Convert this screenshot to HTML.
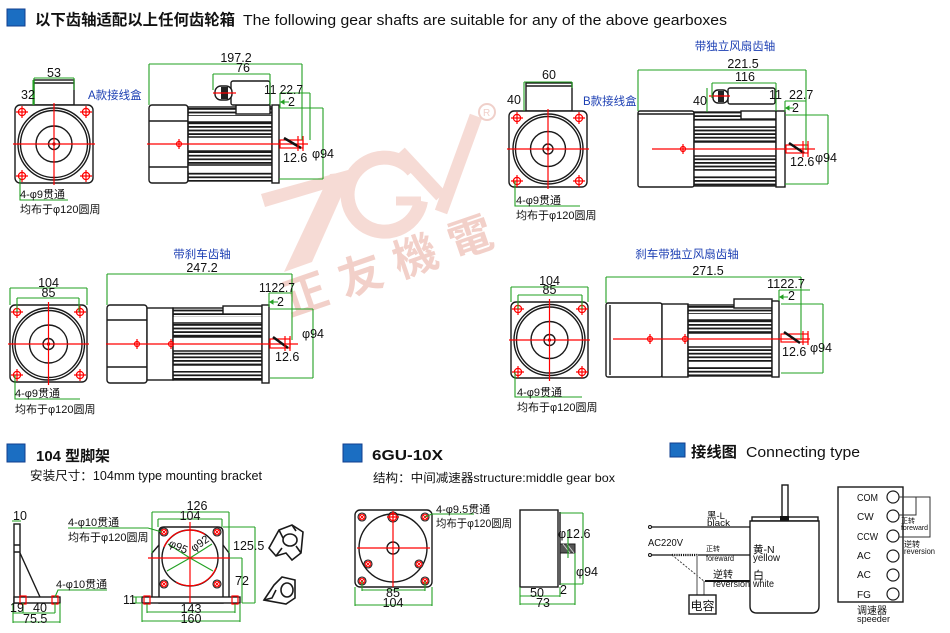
<!DOCTYPE html>
<html><head><meta charset="utf-8">
<style>
html,body{margin:0;padding:0;background:#fff;}
svg{display:block;}
text{font-family:"Liberation Sans","Noto Sans CJK SC",sans-serif;fill:#111;}
.k{stroke:#1a1a1a;fill:none;stroke-width:1.4}
.kw{stroke:#1a1a1a;fill:#fff;stroke-width:1.4}
.g{stroke:#22a022;fill:none;stroke-width:1.1}
.r{stroke:#f00;fill:none;stroke-width:1.2}
.d{font-size:12.5px}
.c{font-size:11px}
.b{font-size:11.5px;fill:#1c3fb3 !important}
.wm{fill:#f6dbd5}
</style></head>
<body>
<svg width="950" height="633" viewBox="0 0 950 633" xmlns="http://www.w3.org/2000/svg">
<defs>
<pattern id="fin" x="0" y="0" width="6" height="3.6" patternUnits="userSpaceOnUse"><rect width="6" height="1.8" fill="#1a1a1a"/></pattern>
<g id="h"><circle r="3.6" fill="none" stroke="#f00" stroke-width="1.2"/><path d="M-6 0H6M0 -6V6" stroke="#f00" stroke-width="1.2"/></g>
<g id="hx"><circle r="4" fill="#fff" stroke="#1a1a1a" stroke-width="1.1"/><circle r="2.8" fill="none" stroke="#f00" stroke-width="1"/><path d="M-2 -2L2 2M2 -2L-2 2" stroke="#f00" stroke-width="1"/></g>
</defs>

<!-- watermark -->
<g>
<polygon class="wm" points="261,194 348,170 352,181 265,207"/>
<polygon class="wm" points="330,174 352,172 312,262 284,272"/>
<path d="M413 171 A37 37 0 1 0 421 201" fill="none" stroke="#f6dbd5" stroke-width="14"/>
<path d="M421 201H396" stroke="#f6dbd5" stroke-width="9"/>
<path d="M400 152L441 196" stroke="#f6dbd5" stroke-width="13"/>
<path d="M476 116L441 212" stroke="#f6dbd5" stroke-width="13"/>
<circle cx="487" cy="112" r="8" fill="none" stroke="#f0d0ca" stroke-width="2"/>
<text x="483" y="116" font-size="10" style="fill:#f0d0ca">R</text>
<text transform="translate(290,316) rotate(-19)" font-size="44" font-weight="bold" letter-spacing="14" style="fill:#f2d0c9;font-family:'Noto Sans CJK TC','Noto Sans CJK SC',sans-serif">正友機電</text>
</g>

<!-- header -->
<rect x="7" y="9" width="18" height="17" fill="#1b6ec2" stroke="#123f8f"/>
<text x="35" y="25" font-size="15.5" font-weight="bold" textLength="200" lengthAdjust="spacingAndGlyphs">以下齿轴适配以上任何齿轮箱</text>
<text x="243" y="25" font-size="15" textLength="484" lengthAdjust="spacingAndGlyphs">The following gear shafts are suitable for any of the above gearboxes</text>

<!-- ===== Top-left front A ===== -->
<rect class="kw" x="34" y="80" width="40" height="25"/>
<path class="k" d="M34 83H74" stroke-width="0.8"/>
<rect class="kw" x="15" y="105" width="78" height="78" rx="5"/>
<circle class="k" cx="54" cy="144" r="36"/>
<circle class="k" cx="54" cy="144" r="33.5"/>
<circle class="k" cx="54" cy="144" r="18"/>
<circle class="k" cx="54" cy="144" r="5.5"/>
<circle cx="54" cy="144" r="1.6" fill="#111"/>
<path class="r" d="M13 144H95M54 103V185"/>
<use href="#h" x="22" y="112"/><use href="#h" x="86" y="112"/><use href="#h" x="22" y="176"/><use href="#h" x="86" y="176"/>
<path class="g" d="M34 78H74M34 78V105M74 78V90M33 80V105"/>
<text class="d" x="47" y="77">53</text>
<text class="d" x="21" y="99">32</text>
<text class="b" x="88" y="99">A款接线盒</text>
<path class="g" d="M20 178V200H68"/>
<text class="c" x="20" y="198">4-φ9贯通</text>
<text class="c" x="20" y="213">均布于φ120圆周</text>

<!-- ===== Top side A ===== -->
<rect class="kw" x="149" y="105" width="39" height="78" rx="3"/>
<path class="k" d="M149 121H188M149 167H188"/>
<rect x="188" y="107" width="84" height="74" fill="url(#fin)"/>
<path fill="#fff" d="M188 116h84v6h-84zM188 137h84v14h-84zM188 165h84v6h-84z"/>
<path class="k" d="M188 122H272M188 137H272M188 151H272M188 165H272"/>
<rect class="k" x="188" y="107" width="84" height="74"/>
<rect class="kw" x="236" y="105" width="34" height="9"/>
<rect class="kw" x="272" y="105" width="7" height="78"/>
<rect class="kw" x="231" y="81" width="39" height="24" rx="2"/>
<rect class="kw" x="215" y="86" width="17" height="14" rx="6"/>
<rect x="221" y="87" width="7" height="12" fill="#222"/>
<path class="r" d="M213 93H236"/>
<path class="r" d="M147 144H308M179 139V149"/>
<circle class="r" cx="179" cy="144" r="2.5"/>
<rect class="r" x="280" y="140" width="23" height="8"/>
<path d="M284 138L301 148" stroke="#111" stroke-width="2.5"/>
<path class="r" d="M298 136V151M303 136V151"/>
<path class="g" d="M149 64H302M149 64V105M302 64V140M213 74H270M213 74V90M270 74V105M280 93H310M310 93V140M280 93V108M279 108H323M279 179H323M323 108V179M282 102H289"/>
<path d="M280 102l4.5-2.8v5.6z" fill="#22a022"/>
<text class="d" x="236" y="62" text-anchor="middle">197.2</text>
<text class="d" x="243" y="72" text-anchor="middle">76</text>
<text class="d" x="264" y="94" textLength="39" lengthAdjust="spacingAndGlyphs">11 22.7</text>
<text class="d" x="288" y="106">2</text>
<text class="d" x="283" y="162">12.6</text>
<text class="d" x="312" y="158">φ94</text>

<!-- ===== Top-right front B ===== -->
<rect class="kw" x="526" y="83" width="46" height="28"/>
<path class="k" d="M526 86H572" stroke-width="0.8"/>
<rect class="kw" x="509" y="111" width="78" height="76" rx="5"/>
<circle class="k" cx="548" cy="149" r="35"/>
<circle class="k" cx="548" cy="149" r="32.5"/>
<circle class="k" cx="548" cy="149" r="17.5"/>
<circle class="k" cx="548" cy="149" r="5"/>
<circle cx="548" cy="149" r="1.6" fill="#111"/>
<path class="r" d="M507 149H589M548 109V189"/>
<use href="#h" x="517" y="118"/><use href="#h" x="579" y="118"/><use href="#h" x="517" y="181"/><use href="#h" x="579" y="181"/>
<path class="g" d="M524 82H572M524 82V111M572 82V88"/>
<text class="d" x="549" y="79" text-anchor="middle">60</text>
<text class="d" x="507" y="104">40</text>
<text class="b" x="583" y="105">B款接线盒</text>
<path class="g" d="M515 181V206H580"/>
<text class="c" x="516" y="204">4-φ9贯通</text>
<text class="c" x="516" y="219">均布于φ120圆周</text>

<!-- ===== Top side B ===== -->
<text class="b" x="735" y="50" text-anchor="middle">带独立风扇齿轴</text>
<rect class="kw" x="638" y="111" width="56" height="76" rx="2"/>
<path class="k" d="M638 114H694" stroke-width="0.8"/>
<rect x="694" y="112" width="82" height="74" fill="url(#fin)"/>
<path fill="#fff" d="M694 121h82v6h-82zM694 142h82v14h-82zM694 170h82v6h-82z"/>
<path class="k" d="M694 127H776M694 142H776M694 156H776M694 170H776"/>
<rect class="k" x="694" y="112" width="82" height="74"/>
<rect class="kw" x="741" y="111" width="35" height="8"/>
<rect class="kw" x="776" y="111" width="9" height="76"/>
<rect class="kw" x="728" y="88" width="47" height="16" rx="2"/>
<rect class="kw" x="713" y="90" width="15" height="13" rx="5"/>
<rect x="718" y="91" width="6" height="11" fill="#222"/>
<path class="r" d="M709 96H730"/>
<path class="r" d="M652 149H815M683 144V154"/>
<circle class="r" cx="683" cy="149" r="2.5"/>
<rect class="r" x="786" y="145" width="22" height="8"/>
<path d="M789 143L804 153" stroke="#111" stroke-width="2.5"/>
<path class="r" d="M803 141V157M808 141V157"/>
<path class="g" d="M638 70H806M638 70V111M806 70V150M712 83H776M712 83V98M776 83V111M707 88V112M785 101H806M785 101V112M785 115H828M785 184H828M828 115V184M787 108H794"/>
<path d="M785 108l4.5-2.8v5.6z" fill="#22a022"/>
<text class="d" x="743" y="68" text-anchor="middle">221.5</text>
<text class="d" x="745" y="81" text-anchor="middle">116</text>
<text class="d" x="693" y="105">40</text>
<text class="d" x="769" y="99">11</text>
<text class="d" x="789" y="99">22.7</text>
<text class="d" x="792" y="112">2</text>
<text class="d" x="790" y="166">12.6</text>
<text class="d" x="815" y="162">φ94</text>

<!-- ===== Middle-left brake ===== -->
<rect class="kw" x="10" y="305" width="77" height="77" rx="5"/>
<circle class="k" cx="48.5" cy="344" r="36"/>
<circle class="k" cx="48.5" cy="344" r="33.5"/>
<circle class="k" cx="48.5" cy="344" r="19"/>
<circle class="k" cx="48.5" cy="344" r="5.5"/>
<circle cx="48.5" cy="344" r="1.6" fill="#111"/>
<path class="r" d="M8 344H89M48.5 302V385"/>
<use href="#h" x="17" y="312"/><use href="#h" x="80" y="312"/><use href="#h" x="17" y="375"/><use href="#h" x="80" y="375"/>
<path class="g" d="M10 288H87M10 288V305M87 288V305M17 298H79M17 298V312M79 298V312"/>
<text class="d" x="48.5" y="287" text-anchor="middle">104</text>
<text class="d" x="48.5" y="297" text-anchor="middle">85</text>
<path class="g" d="M15 375V399H80"/>
<text class="c" x="15" y="397">4-φ9贯通</text>
<text class="c" x="15" y="413">均布于φ120圆周</text>

<text class="b" x="202" y="258" text-anchor="middle">带刹车齿轴</text>
<rect class="kw" x="107" y="305" width="40" height="78" rx="3"/>
<path class="k" d="M107 320H147M107 367H147"/>
<rect class="kw" x="147" y="308" width="26" height="72"/>
<rect x="173" y="308" width="89" height="72" fill="url(#fin)"/>
<path fill="#fff" d="M173 317h89v6h-89zM173 337h89v14h-89zM173 365h89v6h-89z"/>
<path class="k" d="M173 323H262M173 337H262M173 351H262M173 365H262"/>
<rect class="k" x="173" y="308" width="89" height="72"/>
<rect class="kw" x="223" y="306" width="39" height="8"/>
<rect class="kw" x="262" y="305" width="7" height="78"/>
<path class="r" d="M106 344H298M137 339V349M171 339V349"/>
<circle class="r" cx="137" cy="344" r="2.5"/>
<circle class="r" cx="171" cy="344" r="2.5"/>
<rect class="r" x="270" y="339" width="20" height="9"/>
<path d="M273 337L288 348" stroke="#111" stroke-width="2.5"/>
<path class="r" d="M285 336V351M290 336V351"/>
<path class="g" d="M107 274H292M107 274V305M292 274V340M269 293H292M269 293V307M270 309H313M270 378H313M313 309V378M271 302H278"/>
<path d="M269 302l4.5-2.8v5.6z" fill="#22a022"/>
<text class="d" x="202" y="272" text-anchor="middle">247.2</text>
<text class="d" x="259" y="292" textLength="36" lengthAdjust="spacingAndGlyphs">1122.7</text>
<text class="d" x="277" y="306">2</text>
<text class="d" x="302" y="338">φ94</text>
<text class="d" x="275" y="361">12.6</text>

<!-- ===== Middle-right ===== -->
<rect class="kw" x="511" y="302" width="77" height="76" rx="5"/>
<circle class="k" cx="549.5" cy="340" r="35.5"/>
<circle class="k" cx="549.5" cy="340" r="33"/>
<circle class="k" cx="549.5" cy="340" r="18.5"/>
<circle class="k" cx="549.5" cy="340" r="5.5"/>
<circle cx="549.5" cy="340" r="1.6" fill="#111"/>
<path class="r" d="M509 340H590M549.5 299V381"/>
<use href="#h" x="518" y="309"/><use href="#h" x="582" y="309"/><use href="#h" x="518" y="372"/><use href="#h" x="582" y="372"/>
<path class="g" d="M511 287H588M511 287V302M588 287V302M518 295H582M518 295V309M582 295V309"/>
<text class="d" x="549.5" y="285" text-anchor="middle">104</text>
<text class="d" x="549.5" y="294" text-anchor="middle">85</text>
<path class="g" d="M515 372V397H582"/>
<text class="c" x="517" y="396">4-φ9贯通</text>
<text class="c" x="517" y="411">均布于φ120圆周</text>

<text class="b" x="687" y="258" text-anchor="middle">刹车带独立风扇齿轴</text>
<rect class="kw" x="606" y="303" width="56" height="74" rx="2"/>
<path class="k" d="M610 305V375" stroke-width="0.8"/>
<rect class="kw" x="662" y="304" width="26" height="73"/>
<rect x="688" y="305" width="84" height="71" fill="url(#fin)"/>
<path fill="#fff" d="M688 314h84v6h-84zM688 333h84v14h-84zM688 361h84v6h-84z"/>
<path class="k" d="M688 320H772M688 333H772M688 347H772M688 361H772"/>
<rect class="k" x="688" y="305" width="84" height="71"/>
<rect class="kw" x="734" y="299" width="38" height="9"/>
<rect class="kw" x="772" y="301" width="7" height="76"/>
<path class="r" d="M613 339H810M650 334V344M685 334V344"/>
<circle class="r" cx="650" cy="339" r="2.5"/>
<circle class="r" cx="685" cy="339" r="2.5"/>
<rect class="r" x="781" y="334" width="27" height="8"/>
<path d="M784 332L800 343" stroke="#111" stroke-width="2.5"/>
<path class="r" d="M803 331V345M808 331V345"/>
<path class="g" d="M606 277H801M606 277V303M801 277V340M779 290H810M779 290V301M781 304H823M781 373H823M823 304V373M781 297H788"/>
<path d="M779 297l4.5-2.8v5.6z" fill="#22a022"/>
<text class="d" x="708" y="275" text-anchor="middle">271.5</text>
<text class="d" x="767" y="288" textLength="38" lengthAdjust="spacingAndGlyphs">1122.7</text>
<text class="d" x="788" y="300">2</text>
<text class="d" x="810" y="352">φ94</text>
<text class="d" x="782" y="356">12.6</text>

<!-- ===== Bottom-left: 104 bracket ===== -->
<rect x="7" y="444" width="18" height="18" fill="#1b6ec2" stroke="#123f8f"/>
<text x="36" y="461" font-size="15" font-weight="bold" textLength="74" lengthAdjust="spacingAndGlyphs">104 型脚架</text>
<text x="30" y="480" font-size="12.5" textLength="232" lengthAdjust="spacingAndGlyphs">安装尺寸：104mm type mounting bracket</text>

<rect class="kw" x="14" y="524" width="6" height="79"/>
<path class="k" d="M14 545H20M14 552H20" stroke-width="1"/>
<path class="k" d="M20 553L40 597"/>
<rect class="kw" x="14" y="597" width="46" height="6"/>
<rect class="r" x="20" y="596" width="6" height="8"/>
<rect class="r" x="52" y="596" width="6" height="8"/>
<path class="g" d="M12 521H21M55 597L58 590H107M13 603V623M23 603V613M55 603V613M60 603V623M13 613H55M13 622H60"/>
<text class="d" x="13" y="520">10</text>
<text class="c" x="56" y="588">4-φ10贯通</text>
<text class="d" x="10" y="612">19</text>
<text class="d" x="33" y="612">40</text>
<text class="d" x="23" y="623">75.5</text>

<path class="kw" d="M159 603V532Q159 527 164 527H218Q223 527 223 532V603Z"/>
<path class="k" d="M159 545L152 553V597M223 545L229 553V597"/>
<rect class="kw" x="142" y="597" width="98" height="6"/>
<circle class="k" cx="190" cy="558" r="28"/>
<path class="r" d="M164 547A28 28 0 0 1 205 534.5M216 568A28 28 0 0 1 176 582" stroke-width="1.6"/>
<path class="g" d="M190 558L168 544M190 558L212 544M190 558L167 571M190 558L213 571"/>
<path class="r" d="M148 558H230M190 522V603"/>
<use href="#hx" x="164" y="532"/><use href="#hx" x="217" y="532"/><use href="#hx" x="164" y="584"/><use href="#hx" x="217" y="584"/>
<rect class="r" x="144" y="596" width="6" height="8"/>
<rect class="r" x="232" y="596" width="6" height="8"/>
<text class="c" transform="translate(168,546) rotate(24)">φ95</text>
<text class="c" transform="translate(194,552) rotate(-35)">φ92</text>
<path class="g" d="M68 528H148L162 532M152 512H229M152 512V553M229 512V553M158 519H222M158 519V527M222 519V527M223 527H255M255 527V603M242 603H255M230 558H242M242 558V603M133 597H142M133 603H142M136 597V603M147 604V613M235 604V613M147 612H235M142 604V622M240 604V622M142 621H240"/>
<text class="c" x="68" y="526">4-φ10贯通</text>
<text class="c" x="68" y="541">均布于φ120圆周</text>
<text class="d" x="197" y="510" text-anchor="middle">126</text>
<text class="d" x="190" y="520" text-anchor="middle">104</text>
<text class="d" x="233" y="550">125.5</text>
<text class="d" x="235" y="585">72</text>
<text class="d" x="123" y="604">11</text>
<text class="d" x="191" y="613" text-anchor="middle">143</text>
<text class="d" x="191" y="623" text-anchor="middle">160</text>

<!-- iso brackets -->
<g stroke="#1a1a1a" stroke-width="1.6" fill="#fff">
<polygon points="269,548 279,530 292,525 303,532 301,553 292,560 286,553 276,556"/>
<ellipse cx="290" cy="540" rx="7" ry="6" fill="#fff"/>
<path d="M279 530L283 538M292 525L296 531M301 553L296 546M276 556L282 548" fill="none"/>
<polygon points="264,600 274,585 282,577 295,580 295,598 286,604"/>
<ellipse cx="287" cy="590" rx="6" ry="7" fill="#fff"/>
<path d="M264 600L272 598L276 590" fill="none"/>
</g>

<!-- ===== 6GU-10X ===== -->
<rect x="343" y="444" width="19" height="18" fill="#1b6ec2" stroke="#123f8f"/>
<text x="372" y="460" font-size="15" font-weight="bold" textLength="71" lengthAdjust="spacingAndGlyphs">6GU-10X</text>
<text x="373" y="482" font-size="12" textLength="242" lengthAdjust="spacingAndGlyphs">结构：中间减速器structure:middle gear box</text>

<rect class="kw" x="355" y="510" width="77" height="77" rx="5"/>
<circle class="k" cx="393" cy="548" r="34"/>
<circle class="k" cx="393" cy="548" r="6"/>
<path class="r" d="M357 548H430M393 512V587"/>
<use href="#hx" x="362" y="517"/><use href="#hx" x="425" y="517"/><use href="#hx" x="362" y="581"/><use href="#hx" x="425" y="581"/>
<use href="#hx" x="368" y="564"/><use href="#hx" x="419" y="564"/>
<circle cx="393" cy="517" r="5" fill="none" stroke="#1a1a1a" stroke-width="1"/>
<use href="#h" x="393" y="517"/>
<path class="g" d="M425 517L432 514H474M355 587V606M432 587V606M362 581V591M425 581V591M362 590H425M355 605H432"/>
<text class="c" x="436" y="513">4-φ9.5贯通</text>
<text class="c" x="436" y="527" textLength="76" lengthAdjust="spacingAndGlyphs">均布于φ120圆周</text>
<text class="d" x="393" y="597" text-anchor="middle">85</text>
<text class="d" x="393" y="607" text-anchor="middle">104</text>

<rect class="kw" x="520" y="510" width="38" height="77"/>
<path class="k" d="M560 512V585"/>
<rect x="560" y="544" width="15" height="9" fill="#555" stroke="#1a1a1a"/>
<path d="M563 544L570 553M567 544L574 553" stroke="#ccc" stroke-width="1"/>
<path class="g" d="M560 513H583M583 513V584M560 584H583M568 530V558M520 587V605M560 587V597M575 553V605M520 596H560M520 604H575"/>
<text class="d" x="558" y="538">φ12.6</text>
<text class="d" x="576" y="576">φ94</text>
<text class="d" x="537" y="597" text-anchor="middle">50</text>
<text class="d" x="560" y="594">2</text>
<text class="d" x="543" y="607" text-anchor="middle">73</text>

<!-- ===== Connecting type ===== -->
<rect x="670" y="443" width="15" height="14" fill="#1b6ec2" stroke="#123f8f"/>
<text x="691" y="457" font-size="15" font-weight="bold" textLength="46" lengthAdjust="spacingAndGlyphs">接线图</text>
<text x="746" y="457" font-size="15" textLength="114" lengthAdjust="spacingAndGlyphs">Connecting type</text>

<rect class="kw" x="782" y="485" width="6" height="34"/>
<rect class="kw" x="752" y="517" width="66" height="4"/>
<rect x="780" y="516" width="9" height="5" fill="#111"/>
<path class="kw" d="M750 521H819V606Q819 613 812 613H757Q750 613 750 606Z"/>
<path d="M651 527H750" stroke="#111" stroke-width="1.3"/>
<path d="M651 555H672M698 555H750" stroke="#111" stroke-width="1.3"/>
<path d="M672 555H698" stroke="#111" stroke-width="2.2" stroke-dasharray="1.2 1"/>
<path d="M672 555L705 582" stroke="#333" stroke-width="0.9" stroke-dasharray="2 1.5"/>
<path d="M705 581H750" stroke="#111" stroke-width="2"/>
<path d="M697 555V595M704 581V595" stroke="#888" stroke-width="1.5"/>
<circle cx="650" cy="527" r="1.5" fill="#fff" stroke="#111"/>
<circle cx="650" cy="555" r="1.5" fill="#fff" stroke="#111"/>
<rect class="kw" x="689" y="595" width="27" height="19"/>
<text x="702.5" y="610" font-size="12" text-anchor="middle">电容</text>
<text x="707" y="519" font-size="9.5">黑-L</text>
<text x="707" y="526" font-size="9.5" textLength="23" lengthAdjust="spacingAndGlyphs">black</text>
<text x="648" y="546" font-size="10" textLength="35" lengthAdjust="spacingAndGlyphs">AC220V</text>
<text x="706" y="551" font-size="7">正转</text>
<text x="706" y="561" font-size="8" textLength="28" lengthAdjust="spacingAndGlyphs">foreward</text>
<text x="753" y="553" font-size="10.5">黄-N</text>
<text x="753" y="561" font-size="10" textLength="27" lengthAdjust="spacingAndGlyphs">yellow</text>
<text x="713" y="578" font-size="10">逆转</text>
<text x="713" y="587" font-size="9.5" textLength="37" lengthAdjust="spacingAndGlyphs">reversion</text>
<text x="753" y="579" font-size="11">白</text>
<text x="753" y="587" font-size="10" textLength="21" lengthAdjust="spacingAndGlyphs">white</text>

<rect class="kw" x="838" y="487" width="65" height="115"/>
<g font-size="10">
<text x="857" y="501" textLength="21" lengthAdjust="spacingAndGlyphs">COM</text>
<text x="857" y="520">CW</text>
<text x="857" y="540" textLength="21" lengthAdjust="spacingAndGlyphs">CCW</text>
<text x="857" y="559">AC</text>
<text x="857" y="578">AC</text>
<text x="857" y="598">FG</text>
</g>
<g fill="#fff" stroke="#1a1a1a" stroke-width="1.2">
<circle cx="893" cy="497" r="6"/><circle cx="893" cy="516" r="6"/><circle cx="893" cy="536" r="6"/>
<circle cx="893" cy="556" r="6"/><circle cx="893" cy="575" r="6"/><circle cx="893" cy="594" r="6"/>
</g>
<path d="M899 497H930V537H899M916 497V515H899" fill="none" stroke="#333" stroke-width="1"/>
<text x="901" y="523" font-size="7">正转</text>
<text x="901" y="530" font-size="7.5" textLength="27" lengthAdjust="spacingAndGlyphs">foreward</text>
<text x="904" y="547" font-size="8">逆转</text>
<text x="904" y="554" font-size="8" textLength="31" lengthAdjust="spacingAndGlyphs">reversion</text>
<text x="857" y="614" font-size="10">调速器</text>
<text x="857" y="622" font-size="9.5" textLength="33" lengthAdjust="spacingAndGlyphs">speeder</text>
</svg>
</body></html>
